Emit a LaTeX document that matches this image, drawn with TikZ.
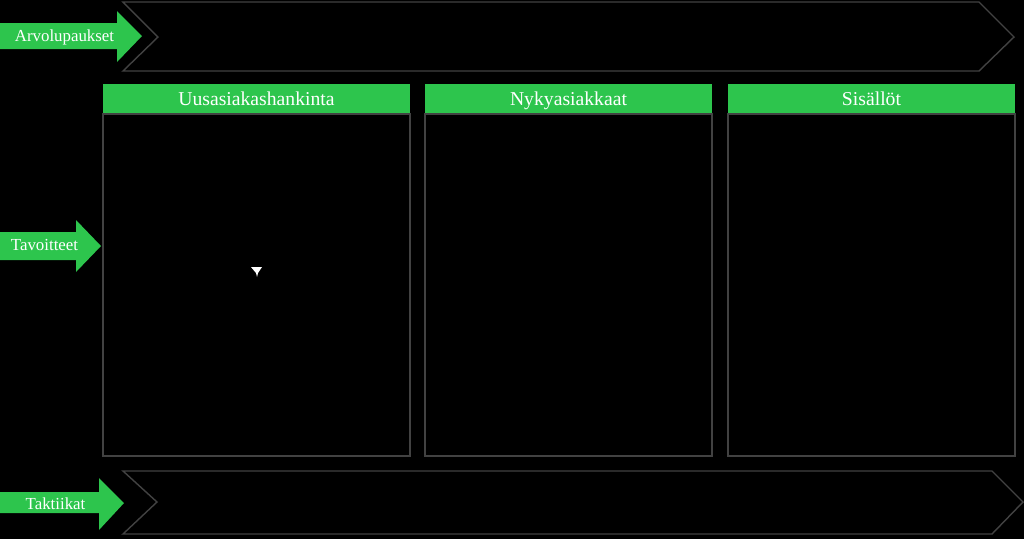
\documentclass[tikz,border=0pt]{standalone}
\usepackage{fontspec}
\setmainfont{Liberation Serif}
\usetikzlibrary{positioning, calc}
\definecolor{vihrea}{RGB}{45,197,77}
\definecolor{harmaa}{RGB}{66,66,66}
\begin{document}
\begin{tikzpicture}[x=0.02cm,y=-0.02cm,
    raami/.style={draw=harmaa,line width=0.8pt},
    nuoli/.style={fill=vihrea},
    teksti/.style={text=white,inner sep=0pt,anchor=base,font=\fontsize{9.6}{11}\selectfont},
    otsikko/.style={text=white,inner sep=0pt,anchor=base,font=\fontsize{11.2}{13}\selectfont}]
                \fill[black] (0,0) rectangle (1024,539);
                \useasboundingbox (0,0) rectangle (1024,539);
                % chevrons
                \draw[raami] (123,2) -- (979,2) -- (1014,37) -- (979,71) -- (123,71) -- (158,37) -- cycle;
                \draw[raami] (123,471) -- (992,471) -- (1023,502) -- (992,534) -- (123,534) -- (157,502) -- cycle;
                % green arrows
                \fill[nuoli] (0,23) -- (117,23) -- (117,11) -- (142,36) -- (117,62) -- (117,49) -- (0,49) -- cycle;
                \fill[nuoli] (0,232) -- (76,232) -- (76,220) -- (101,246) -- (76,272) -- (76,260) -- (0,260) -- cycle;
                \fill[nuoli] (0,492) -- (99,492) -- (99,478) -- (124,503) -- (99,530) -- (99,513) -- (0,513) -- cycle;
                \node[teksti] (arvo) at (64.5,41) {Arvolupaukset};
                \node[teksti] (tavo) at (44.5,250) {Tavoitteet};
                \node[teksti] (takt) at (55.5,509) {Taktiikat};
                % columns
                \fill[vihrea] (103,84) rectangle (410,114);
                \fill[vihrea] (425,84) rectangle (712,114);
                \fill[vihrea] (728,84) rectangle (1015,114);
                \draw[raami] (103,114) rectangle (410,456);
                \draw[raami] (425,114) rectangle (712,456);
                \draw[raami] (728,114) rectangle (1015,456);
                \node[otsikko] (uusi) at (256.5,105) {Uusasiakashankinta};
                \node[otsikko] (nyky) at (568.5,105) {Nykyasiakkaat};
                \node[otsikko] (sisa) at (871.5,105) {Sisällöt};
                % pointer
                \fill[white] (251,267) -- (262,267) -- (258,273) -- (257,277) -- (256,273) -- cycle;
            \end{tikzpicture}
\end{document}
